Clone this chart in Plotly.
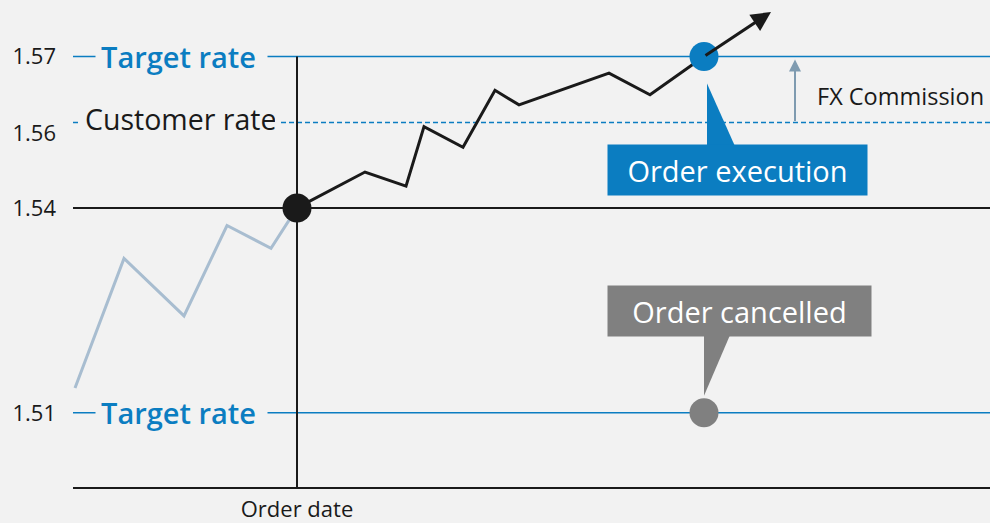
import plotly.graph_objects as go

# ---- data (schematic FX order chart) ----
# time axis in "days", rate axis in rate units (schematic)
pre_days = [0.2, 5.1, 11.1, 15.4, 19.8, 22.4]
pre_rates = [1.5043, 1.5300, 1.5186, 1.5365, 1.5320, 1.5400]

post_days = [22.4, 29.2, 33.3, 35.1, 39.0, 42.2, 44.6, 53.6, 57.7, 63.1]
post_rates = [1.5400, 1.5471, 1.5443, 1.5561, 1.5520, 1.5633, 1.5604, 1.5667, 1.5624, 1.5700]

trend_day = 69.8
trend_rate = 1.5788

order_day = 22.4
order_rate = 1.54
exec_day = 63.1
target_high = 1.57
target_low = 1.4994
customer_rate = 1.5569
fx_day = 72.2
fx_label_rate = 1.5622

tick_vals = [1.57, 1.5547, 1.54, 1.4994]
tick_text = ["1.57", "1.56", "1.54", "1.51"]

x_range = [0, 91.7]
y_range = [1.484706, 1.580784]

BLUE = "#0b7dc1"
GREY = "#808080"
DARK = "#1a1a1a"
BG = "#f2f2f2"
FONT = "Open Sans"

fig = go.Figure()

# pre-order path
fig.add_trace(go.Scatter(x=pre_days, y=pre_rates, mode="lines",
                         line=dict(color="#a8bdd0", width=3), hoverinfo="skip"))
# post-order path
fig.add_trace(go.Scatter(x=post_days, y=post_rates, mode="lines",
                         line=dict(color=DARK, width=3), hoverinfo="skip"))
# markers
fig.add_trace(go.Scatter(x=[order_day], y=[order_rate], mode="markers",
                         marker=dict(color=DARK, size=29), hoverinfo="skip"))
fig.add_trace(go.Scatter(x=[exec_day], y=[target_high], mode="markers",
                         marker=dict(color=BLUE, size=29), hoverinfo="skip"))
fig.add_trace(go.Scatter(x=[exec_day], y=[target_low], mode="markers",
                         marker=dict(color=GREY, size=29), hoverinfo="skip"))

shapes = []
# horizontal reference lines
shapes.append(dict(type="line", xref="x", yref="y", x0=x_range[0], x1=x_range[1],
                   y0=target_high, y1=target_high, line=dict(color=BLUE, width=1.5), layer="below"))
shapes.append(dict(type="line", xref="x", yref="y", x0=x_range[0], x1=x_range[1],
                   y0=target_low, y1=target_low, line=dict(color=BLUE, width=1.5), layer="below"))
shapes.append(dict(type="line", xref="x", yref="y", x0=x_range[0], x1=x_range[1],
                   y0=customer_rate, y1=customer_rate,
                   line=dict(color=BLUE, width=1.5, dash="5px,3px"), layer="below"))
shapes.append(dict(type="line", xref="x", yref="y", x0=x_range[0], x1=x_range[1],
                   y0=order_rate, y1=order_rate, line=dict(color=DARK, width=2), layer="below"))
# order date vertical line
shapes.append(dict(type="line", xref="x", yref="y", x0=order_day, x1=order_day,
                   y0=y_range[0], y1=target_high, line=dict(color=DARK, width=2), layer="below"))
# callout pointers (pixel offsets relative to the event points)
shapes.append(dict(type="path", xref="x", yref="y", xsizemode="pixel", ysizemode="pixel",
                   xanchor=exec_day, yanchor=target_high,
                   path="M 3,-27 L 3,-92 L 32,-92 Z", fillcolor=BLUE, line=dict(width=0), layer="above"))
shapes.append(dict(type="path", xref="x", yref="y", xsizemode="pixel", ysizemode="pixel",
                   xanchor=exec_day, yanchor=target_low,
                   path="M 0,17 L 0,80 L 27,80 Z", fillcolor=GREY, line=dict(width=0), layer="above"))

annotations = []
# trend arrow
annotations.append(dict(x=trend_day, y=trend_rate, ax=exec_day, ay=target_high,
                        xref="x", yref="y", axref="x", ayref="y", text="",
                        showarrow=True, arrowhead=2, arrowsize=1.3, arrowwidth=3,
                        arrowcolor=DARK, standoff=0))
# FX commission arrow
annotations.append(dict(x=fx_day, y=target_high, ax=fx_day, ay=customer_rate,
                        xref="x", yref="y", axref="x", ayref="y", text="",
                        showarrow=True, arrowhead=2, arrowsize=1.2, arrowwidth=2,
                        arrowcolor="#7f9bb0", standoff=3))
annotations.append(dict(x=fx_day, y=fx_label_rate, xref="x", yref="y", xanchor="left",
                        xshift=20, text="FX Commission", showarrow=False,
                        font=dict(family=FONT, size=23.5, color=DARK)))
# line labels (masking the lines)
for yv in (target_high, target_low):
    annotations.append(dict(x=x_range[0], y=yv, xref="x", yref="y", xanchor="left",
                            xshift=22, text="Target rate", showarrow=False,
                            bgcolor=BG, borderpad=5, width=161, align="left",
                            font=dict(family=FONT, size=29, color=BLUE, weight=600)))
annotations.append(dict(x=x_range[0], y=customer_rate, xref="x", yref="y", xanchor="left",
                        xshift=6, yshift=4, text="Customer rate", showarrow=False,
                        bgcolor=BG, borderpad=5, width=190, align="left",
                        font=dict(family=FONT, size=28.5, color=DARK)))
# callout boxes
annotations.append(dict(x=exec_day, y=target_high, xref="x", yref="y",
                        xshift=33.5, yshift=-114, text="Order execution", showarrow=False,
                        bgcolor=BLUE, width=259, height=50, borderpad=0, align="center",
                        font=dict(family=FONT, size=29, color="white")))
annotations.append(dict(x=exec_day, y=target_low, xref="x", yref="y",
                        xshift=35.5, yshift=102, text="Order cancelled", showarrow=False,
                        bgcolor=GREY, width=263, height=50, borderpad=0, align="center",
                        font=dict(family=FONT, size=29, color="white")))

fig.update_layout(
    width=990, height=523,
    margin=dict(l=73, r=0, t=2, b=31),
    paper_bgcolor=BG, plot_bgcolor=BG,
    showlegend=False,
    shapes=shapes, annotations=annotations,
    xaxis=dict(range=x_range, showgrid=False, zeroline=False,
               showline=True, linecolor=DARK, linewidth=2,
               tickvals=[order_day], ticktext=["Order date"], ticks="",
               ticklabelstandoff=2,
               tickfont=dict(family=FONT, size=22, color=DARK), fixedrange=True),
    yaxis=dict(range=y_range, showgrid=False, zeroline=False, showline=False,
               tickvals=tick_vals, ticktext=tick_text, ticks="",
               ticklabelstandoff=16,
               tickfont=dict(family=FONT, size=22, color=DARK), fixedrange=True),
)

fig.write_html("out.html", config={"displayModeBar": False},
               post_script="document.body.style.margin='0';document.body.style.background='#f2f2f2';")
